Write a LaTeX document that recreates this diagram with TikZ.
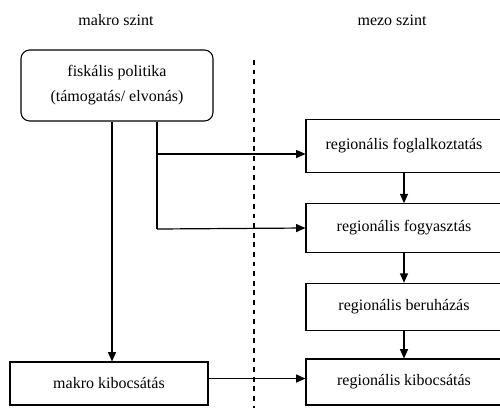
\documentclass[tikz,border=0pt]{standalone}
\usepackage{fontspec}
\setmainfont{Liberation Serif}
\usepackage{tikz}
\usetikzlibrary{arrows.meta}

\tikzset{
  box/.style={draw, line width=0.8pt, inner sep=0pt, minimum width=147pt},
  arr/.style={line width=0.9pt, -{Triangle[length=7pt,width=6pt]}},
  lbl/.style={font=\rmfamily\fontsize{12}{14.4}\selectfont}
}

\begin{document}
\begin{tikzpicture}[x=0.75pt,y=-0.75pt]
\useasboundingbox (0,0) rectangle (500,408);
\node[lbl] (makroszint) at (116,20) {makro szint};
\node[lbl] (mezoszint) at (392,20) {mezo szint};
\draw[line width=0.8pt, dash pattern=on 3.6pt off 3.6pt] (254,60) -- (254,408);
\node[box, lbl, rounded corners=6.5pt, minimum width=144pt, minimum height=53.25pt, align=center, font=\rmfamily\fontsize{12}{18.75}\selectfont] (fisk) at (117,85.5) {fiskális politika\\(támogatás/ elvonás)};
\node[box, lbl, minimum width=148.5pt, minimum height=32.25pt] (makkib) at (109,383.5) {makro kibocsátás};
\node[box, lbl, minimum height=39.4pt] (regfog) at (404,146) {regionális foglalkoztatás};
\node[box, lbl, minimum height=36.4pt] (regfogy) at (404,228) {regionális fogyasztás};
\node[box, lbl, minimum height=35.6pt] (regber) at (404,307) {regionális beruházás};
\node[box, lbl, minimum height=34.5pt] (regkib) at (404,382) {regionális kibocsátás};
% fiskalis politika
\draw[arr] (fisk.south -| 112,0) -- (makkib.north -| 112,0);
\draw[line width=0.9pt] (fisk.south -| 157,0) -- (157,229);
\draw[arr] (157,154) -- (regfog.west |- 157,154);
\draw[arr] (157,229) -- (regfogy.west);
% regionalis lanc
\draw[arr] (regfog) -- (regfogy);
\draw[arr] (regfogy) -- (regber);
\draw[arr] (regber) -- (regkib);
\draw[arr] ([yshift=3.7pt]makkib.east) -- ([yshift=3.7pt]makkib.east -| regkib.west);
\end{tikzpicture}
\end{document}
